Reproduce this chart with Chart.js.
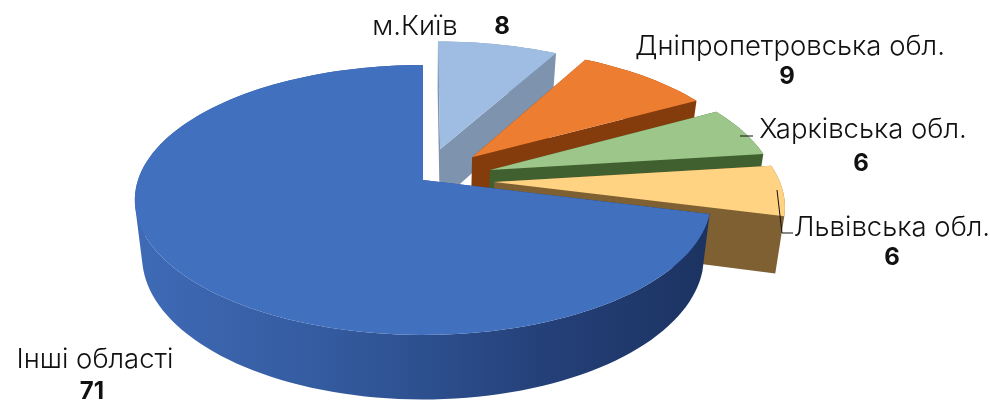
<!DOCTYPE html>
<html><head><meta charset="utf-8">
<style>html,body{margin:0;padding:0;background:#fff;overflow:hidden}canvas{display:block}</style>
<script src="https://cdn.jsdelivr.net/npm/chart.js@4/dist/chart.umd.js"></script>
</head><body><canvas id="c" width="990" height="400"></canvas>
<script>
const categories = ["м.Київ","Дніпропетровська обл.","Харківська обл.","Львівська обл.","Інші області"];
const values = [8,9,6,6,71];
const topColors = ["#9fbde3","#ed7d31","#9cc68a","#ffd382","#4170be"];
const sideColors = ["#7d93ae","#843c0c","#41602f","#7f6032",null];

// pseudo-3D camera
const view = {sx:285/180, sy:132/180, k:0.148, depth:55, shrink:0.975};
const explode = [0.25,0.25,0.25,0.25,0];
const labelStyle = {font:'300 27.5px Inter', bold:'bold 24px Inter', color:'#111'};
const labelPos = [
  {name:[415,27], val:[502,27]},
  {name:[790,47], val:[787,77]},
  {name:[863,130], val:[861,164]},
  {name:[892,228], val:[892,258]},
  {name:[95,360], val:[92,392]}
];
const leaders = [
  [[740,136],[753,136]],
  [[777,190],[782,233],[793,233]]
];

const pie3d = {
  id:'pie3d',
  beforeDatasetsDraw(chart){
    const ctx = chart.ctx, meta = chart.getDatasetMeta(0);
    meta.data.forEach((arc,i)=>{
      const {x:cx,y:cy,startAngle,endAngle,outerRadius:R} = arc.getProps(['x','y','startAngle','endAngle','outerRadius'],true);
      const mid=(startAngle+endAngle)/2;
      const ox=Math.cos(mid)*explode[i], oz=-Math.sin(mid)*explode[i];
      const proj=(a,r,lvl)=>{
        const X=ox+(r?Math.cos(a):0), Z=oz+(r?-Math.sin(a):0);
        const p=1/(1+view.k*Z);
        return {x:cx+X*p*R*view.sx*(lvl?view.shrink:1), y:cy-Z*p*R*view.sy+lvl*view.depth*p};
      };
      let side = sideColors[i];
      if(!side){
        const g=ctx.createLinearGradient(135,0,710,0);
        g.addColorStop(0,'#3f6ab6'); g.addColorStop(0.35,'#335a9e');
        g.addColorStop(0.7,'#25417a'); g.addColorStop(1,'#1c3361');
        side=g;
      }
      const n=Math.max(4,Math.ceil((endAngle-startAngle)/(Math.PI/90)));
      const angles=[]; for(let j=0;j<=n;j++) angles.push(startAngle+(endAngle-startAngle)*j/n);
      // union of all side faces, one path with uniform winding so no seams show
      const quad=pts=>{
        let area=0;
        pts.forEach((q,k)=>{const r=pts[(k+1)%pts.length]; area+=q.x*r.y-r.x*q.y;});
        const seq=area<0?pts.slice().reverse():pts;
        seq.forEach((q,k)=>k?ctx.lineTo(q.x,q.y):ctx.moveTo(q.x,q.y));
        ctx.closePath();
      };
      ctx.save();
      ctx.beginPath();
      for(let j=0;j<n;j++) quad([proj(angles[j],1,0),proj(angles[j+1],1,0),proj(angles[j+1],1,1),proj(angles[j],1,1)]);
      [startAngle,endAngle].forEach(a=>quad([proj(0,0,0),proj(a,1,0),proj(a,1,1),proj(0,0,1)]));
      ctx.fillStyle=side; ctx.fill();
      ctx.beginPath();
      const c0=proj(0,0,0); ctx.moveTo(c0.x,c0.y);
      angles.forEach(a=>{const q=proj(a,1,0); ctx.lineTo(q.x,q.y);});
      ctx.closePath();
      ctx.fillStyle=arc.options.backgroundColor; ctx.fill();
      ctx.restore();
    });
    return false;
  },
  afterDraw(chart){
    const ctx=chart.ctx;
    ctx.save();
    ctx.strokeStyle='#111'; ctx.lineWidth=1;
    leaders.forEach(l=>{ctx.beginPath();l.forEach((p,k)=>k?ctx.lineTo(p[0],p[1]):ctx.moveTo(p[0],p[1]));ctx.stroke();});
    ctx.textAlign='center'; ctx.textBaseline='middle'; ctx.fillStyle=labelStyle.color;
    categories.forEach((name,i)=>{
      ctx.font=labelStyle.font; ctx.fillText(name,labelPos[i].name[0],labelPos[i].name[1]);
      ctx.font=labelStyle.bold; ctx.fillText(String(values[i]),labelPos[i].val[0],labelPos[i].val[1]);
    });
    ctx.restore();
  }
};

new Chart(document.getElementById('c'),{
  type:'pie',
  data:{labels:categories,datasets:[{data:values,backgroundColor:topColors,borderWidth:0}]},
  options:{
    responsive:false,animation:false,
    layout:{padding:{right:144,bottom:40}},
    plugins:{legend:{display:false},tooltip:{enabled:false},title:{display:false}}
  },
  plugins:[pie3d]
});
</script></body></html>
